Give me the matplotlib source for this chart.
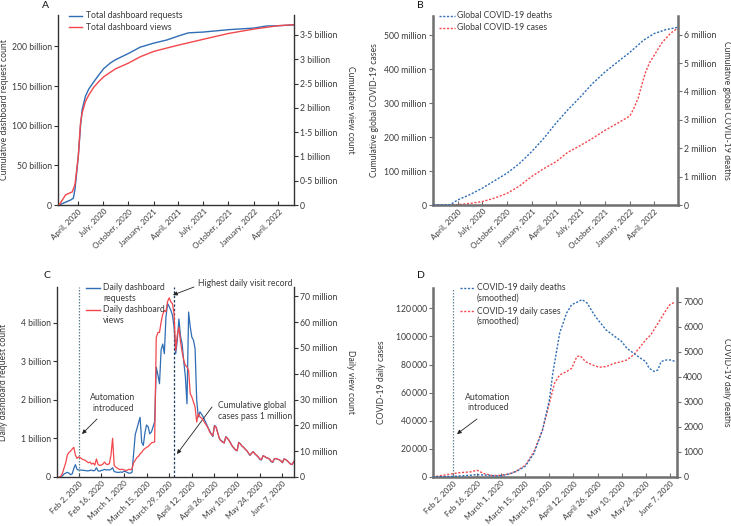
import pandas as pd
import matplotlib
matplotlib.use("Agg")
import matplotlib.pyplot as plt
from matplotlib.lines import Line2D

plt.rcParams['font.family'] = ['Lato', 'DejaVu Sans']
plt.rcParams['font.size'] = 6.2

BLUE = '#2f6db5'
RED = '#f2474c'
TXT = '#3a3a3a'
W, H = 731, 526

# ---- Panel A: cumulative requests (billions) / views (billions)
a_req_dates = ['2020-01-22', '2020-03-04', '2020-03-14', '2020-03-20', '2020-04-01', '2020-04-09',
               '2020-04-15', '2020-04-27', '2020-05-09', '2020-05-27', '2020-06-15', '2020-07-03',
               '2020-07-27', '2020-08-14', '2020-10-01', '2020-11-13', '2021-01-01', '2021-02-18',
               '2021-04-01', '2021-05-08', '2021-07-01', '2021-10-01', '2022-01-01', '2022-02-16',
               '2022-04-01', '2022-05-27']
a_requests = [0, 6.3, 8.5, 20, 61, 99, 120, 137, 146, 155, 164, 172, 179, 183, 191, 199, 204, 208,
              213, 217, 218, 221, 223, 225.6, 226, 227]
a_view_dates = ['2020-01-22', '2020-02-15', '2020-03-10', '2020-03-20', '2020-04-01', '2020-04-09',
                '2020-04-15', '2020-04-27', '2020-05-09', '2020-05-27', '2020-06-15', '2020-07-03',
                '2020-08-14', '2020-10-01', '2020-11-13', '2021-01-01', '2021-02-18', '2021-04-01',
                '2021-07-01', '2021-10-01', '2022-01-01', '2022-04-01', '2022-05-27']
a_views = [0, 0.21, 0.27, 0.42, 1.0, 1.68, 1.89, 2.13, 2.26, 2.42, 2.54, 2.64, 2.80, 2.92, 3.05,
           3.16, 3.23, 3.29, 3.41, 3.53, 3.62, 3.69, 3.71]

# ---- Panel B: cumulative cases (millions) / deaths (millions)
b_case_dates = ['2020-01-01', '2020-03-01', '2020-04-01', '2020-05-15', '2020-07-01', '2020-08-15',
                '2020-10-01', '2020-11-15', '2021-01-01', '2021-02-15', '2021-04-01', '2021-05-15',
                '2021-07-01', '2021-08-15', '2021-10-01', '2021-11-15', '2022-01-01', '2022-01-15',
                '2022-02-01', '2022-02-15', '2022-03-01', '2022-03-15', '2022-04-01', '2022-05-01',
                '2022-06-01', '2022-06-28']
b_cases = [0, 0.3, 1, 4.5, 10, 20, 34, 55, 84, 107, 127, 155, 175, 196, 220, 240, 262, 283,
           315, 355, 392, 418, 440, 478, 505, 520]
b_death_dates = ['2020-01-01', '2020-03-04', '2020-04-01', '2020-05-15', '2020-07-01', '2020-08-15',
                 '2020-10-01', '2020-11-15', '2021-01-01', '2021-02-15', '2021-04-01', '2021-05-15',
                 '2021-07-01', '2021-08-15', '2021-10-01', '2021-11-15', '2022-01-01', '2022-02-20',
                 '2022-04-01', '2022-05-15', '2022-06-28']
b_deaths = [0, 0.01, 0.18, 0.36, 0.59, 0.85, 1.12, 1.45, 1.88, 2.35, 2.88, 3.35, 3.81, 4.28,
            4.69, 5.03, 5.38, 5.8, 6.04, 6.18, 6.26]

# ---- Panel C: daily requests (billions) / views (millions), 21 Jan - 14 Jun 2020
c_start, c_end = '2020-01-21', '2020-06-14'
c_requests = [0, 0.01, 0.03, 0.08, 0.1, 0.12, 0.1, 0.06, 0.08, 0.22, 0.32,
              0.2, 0.18, 0.18, 0.18, 0.17, 0.17, 0.16, 0.16, 0.17, 0.18, 0.16, 0.17, 0.24, 0.16, 0.15,
              0.17, 0.18, 0.2, 0.18, 0.19, 0.18, 0.2, 0.24, 0.14, 0.13, 0.12, 0.12, 0.13, 0.12,
              0.15, 0.14, 0.12, 0.1, 0.1, 0.12, 0.6, 1.1, 1.25, 1.4, 1.55, 0.9, 0.82, 1.15, 1.35, 1.3,
              1.12, 1.17, 1.3, 1.43, 2.85, 2.65, 2.42, 3.3, 3.45, 3.2, 4.15, 4.5, 4.42, 4.33, 4.2,
              3.9, 3.2, 3.55, 4.1, 3.65, 3.45, 3.0, 2.6, 1.9, 4.28, 3.9, 3.63, 3.55, 3.33, 2.0, 1.56,
              1.69, 1.63, 1.56, 1.47, 1.38, 1.28, 1.2, 1.12, 1.05, 1.34, 1.3, 1.15, 1.0, 0.95,
              0.92, 0.88, 1.05, 1.0, 0.95, 0.88, 0.8, 0.75, 0.7, 0.68, 0.9, 0.86, 0.8, 0.77, 0.72,
              0.68, 0.62, 0.56, 0.62, 0.66, 0.6, 0.56, 0.52, 0.46, 0.44, 0.55, 0.53, 0.5, 0.49, 0.46, 0.4,
              0.38, 0.47, 0.48, 0.46, 0.45, 0.42, 0.37, 0.47, 0.45, 0.42, 0.38, 0.34, 0.32, 0.4]
c_views = [0, 0.3, 1.5, 3.5, 5.5, 8.5, 9.5, 10, 10.8, 11.5, 8.5,
           7.2, 7.8, 7.5, 7.0, 6.7, 6.5, 6.0, 5.5, 5.8, 5.0, 5.4, 4.6, 7.0, 4.9, 4.5,
           4.6, 5.0, 5.8, 5.0, 4.8, 5.2, 8.5, 15, 4.5, 3.8, 3.4, 3.0, 2.9, 3.0,
           2.8, 2.6, 2.6, 3.0, 2.8, 3.2, 5.5, 6.5, 7.5, 8.0, 9.0, 9.5, 10.5, 11.0, 11.5, 11.8,
           12.5, 13.2, 13.4, 13.6, 54, 56, 56, 60, 63, 64.5, 64, 68, 69.4, 67.8, 67.2,
           63.3, 49, 55, 58, 52.3, 48.4, 45.2, 43.3, 42.6, 41.3, 32.3, 31.0, 29, 27.1, 21.3,
           24.5, 23.3, 22.8, 22, 21, 20, 19, 17.5, 16.5, 16, 19.8, 19.2, 17, 15, 14,
           13.5, 13.2, 15.5, 15, 14.2, 13, 12, 11.3, 10.5, 10.2, 13.3, 12.8, 12, 11.5, 10.8,
           10.2, 9.3, 8.5, 9.2, 9.8, 9, 8.4, 7.8, 7, 6.8, 8.2, 8, 7.5, 7.3, 7, 6.2,
           5.8, 7, 7.2, 6.9, 6.7, 6.3, 5.6, 7, 6.8, 6.3, 5.6, 5, 4.9, 6]

# ---- Panel D: smoothed daily cases / deaths
d_case_dates = ['2020-01-21', '2020-02-02', '2020-02-06', '2020-02-12', '2020-02-16', '2020-02-20',
                '2020-02-25', '2020-03-01', '2020-03-06', '2020-03-10', '2020-03-15', '2020-03-20',
                '2020-03-25', '2020-03-29', '2020-04-01', '2020-04-04', '2020-04-08', '2020-04-11',
                '2020-04-14', '2020-04-16', '2020-04-19', '2020-04-23', '2020-04-27', '2020-05-01',
                '2020-05-06', '2020-05-10', '2020-05-13', '2020-05-17', '2020-05-21', '2020-05-24',
                '2020-05-27', '2020-05-30', '2020-06-02', '2020-06-05', '2020-06-07', '2020-06-10']
d_cases = [0, 2400, 3100, 3600, 4800, 2400, 1000, 1200, 2400, 4300, 8300, 17900, 33300, 52400,
           66700, 72600, 75000, 77400, 85700, 86200, 82100, 79800, 78100, 78600, 81000, 82100,
           83300, 86900, 92900, 97600, 101200, 107100, 113100, 119000, 122600, 124500]
d_death_dates = ['2020-01-21', '2020-02-02', '2020-02-12', '2020-02-16', '2020-02-22', '2020-02-28',
                 '2020-03-01', '2020-03-06', '2020-03-10', '2020-03-15', '2020-03-20', '2020-03-25',
                 '2020-03-29', '2020-03-31', '2020-04-04', '2020-04-08', '2020-04-11', '2020-04-14',
                 '2020-04-17', '2020-04-20', '2020-04-24', '2020-04-27', '2020-05-01', '2020-05-06',
                 '2020-05-10', '2020-05-13', '2020-05-17', '2020-05-21', '2020-05-24', '2020-05-26',
                 '2020-05-29', '2020-05-31', '2020-06-02', '2020-06-05', '2020-06-08', '2020-06-10']
d_deaths = [0, 25, 70, 95, 70, 40, 55, 120, 230, 430, 935, 1870, 3070, 4140, 5740, 6540, 6880,
            6970, 7080, 6940, 6480, 6210, 5870, 5610, 5410, 5140, 4940, 4740, 4610, 4340, 4210,
            4270, 4610, 4670, 4670, 4610]

# ---- tick positions and labels
long_ticks = ['2020-04-01', '2020-07-01', '2020-10-01', '2021-01-01', '2021-04-01', '2021-07-01',
              '2021-10-01', '2022-01-01', '2022-04-01']
long_labels = ['April, 2020', 'July, 2020', 'October, 2020', 'January, 2021', 'April, 2021',
               'July, 2021', 'October, 2021', 'January, 2022', 'April, 2022']
short_ticks = ['2020-02-02', '2020-02-16', '2020-03-01', '2020-03-15', '2020-03-29', '2020-04-12',
               '2020-04-26', '2020-05-10', '2020-05-24', '2020-06-07']
short_labels = ['Feb 2, 2020', 'Feb 16, 2020', 'March 1, 2020', 'March 15, 2020', 'March 29, 2020',
                'April 12, 2020', 'April 26, 2020', 'May 10, 2020', 'May 24, 2020', 'June 7, 2020']

a_left_ticks = [0, 50, 100, 150, 200]
a_left_labels = ['0', '50 billion', '100 billion', '150 billion', '200 billion']
a_right_ticks = [0, 0.5, 1, 1.5, 2, 2.5, 3, 3.5]
a_right_labels = ['0', '0·5 billion', '1 billion', '1·5 billion', '2 billion', '2·5 billion',
                  '3 billion', '3·5 billion']
b_left_ticks = [0, 100, 200, 300, 400, 500]
b_left_labels = ['0', '100 million', '200 million', '300 million', '400 million', '500 million']
b_right_ticks = [0, 1, 2, 3, 4, 5, 6]
b_right_labels = ['0', '1 million', '2 million', '3 million', '4 million', '5 million', '6 million']
c_left_ticks = [0, 1, 2, 3, 4]
c_left_labels = ['0', '1 billion', '2 billion', '3 billion', '4 billion']
c_right_ticks = [0, 10, 20, 30, 40, 50, 60, 70]
c_right_labels = ['0', '10 million', '20 million', '30 million', '40 million', '50 million',
                  '60 million', '70 million']
d_left_ticks = [0, 20000, 40000, 60000, 80000, 100000, 120000]
d_left_labels = ['0', '20\u2009000', '40\u2009000', '60\u2009000', '80\u2009000', '100\u2009000',
                 '120\u2009000']
d_right_ticks = [0, 1000, 2000, 3000, 4000, 5000, 6000, 7000]
d_right_labels = ['0', '1000', '2000', '3000', '4000', '5000', '6000', '7000']


def fx(px):
    return px / W


def fy(py):
    return 1 - py / H


def add_axes(fig, l, t, r, b):
    return fig.add_axes([fx(l), fy(b), (r - l) / W, (b - t) / H])


def style(ax, ax2, spine_col, spine_lw):
    ax.spines['top'].set_visible(False)
    ax.spines['right'].set_visible(False)
    ax2.spines['top'].set_visible(False)
    ax2.spines['left'].set_visible(False)
    ax2.spines['bottom'].set_visible(False)
    for s in ['left', 'bottom']:
        ax.spines[s].set_color(spine_col)
        ax.spines[s].set_linewidth(spine_lw)
    ax2.spines['right'].set_color(spine_col)
    ax2.spines['right'].set_linewidth(spine_lw)
    ax.tick_params(axis='y', direction='out', length=3, width=0.8, pad=1.5,
                   colors=spine_col, labelcolor=TXT)
    ax2.tick_params(axis='y', direction='out', length=3, width=0.8, pad=1.5,
                    colors=spine_col, labelcolor=TXT)
    ax.tick_params(axis='x', direction='in', length=3, width=0.8, pad=2,
                   colors=spine_col, labelcolor=TXT, labelsize=5.8)


def set_xdates(ax, ticks, labels, lo, hi):
    ax.set_xlim(pd.Timestamp(lo), pd.Timestamp(hi))
    ax.set_xticks(pd.to_datetime(ticks))
    ax.set_xticklabels(labels, rotation=45, ha='right', rotation_mode='anchor')


def set_y(ax, ticks, labels, top):
    ax.set_ylim(0, top)
    ax.set_yticks(ticks)
    ax.set_yticklabels(labels)


def lines_text(fig, x, y, lines, step=10.5, ha='left'):
    for i, s in enumerate(lines):
        fig.text(fx(x), fy(y + i * step), s, ha=ha, va='center', color=TXT)


def key(fig, x0, x1, y, color, ls):
    fig.add_artist(Line2D([fx(x0), fx(x1)], [fy(y), fy(y)], transform=fig.transFigure,
                          color=color, lw=1.0, ls=ls))


fig = plt.figure(figsize=(W / 100, H / 100), dpi=100)
DOT = (0, (1.5, 1.2))

# ================= A
axA = add_axes(fig, 58, 15, 294, 205)
axA2 = axA.twinx()
axA.plot(pd.to_datetime(a_req_dates), a_requests, color=BLUE, lw=1.0)
axA2.plot(pd.to_datetime(a_view_dates), a_views, color=RED, lw=1.0)
style(axA, axA2, '#333333', 1.0)
set_xdates(axA, long_ticks, long_labels, '2020-01-18', '2022-05-28')
set_y(axA, a_left_ticks, a_left_labels, 239.5)
set_y(axA2, a_right_ticks, a_right_labels, 3.91)
key(fig, 69, 82, 16, BLUE, '-')
key(fig, 69, 82, 27, RED, '-')
lines_text(fig, 86, 16, ['Total dashboard requests'])
lines_text(fig, 86, 27, ['Total dashboard views'])

# ================= B
axB = add_axes(fig, 433, 16, 678, 205)
axB2 = axB.twinx()
axB2.plot(pd.to_datetime(b_death_dates), b_deaths, color=BLUE, lw=1.0, ls=DOT)
axB.plot(pd.to_datetime(b_case_dates), b_cases, color=RED, lw=1.0, ls=DOT)
style(axB, axB2, '#6f6f6f', 1.8)
set_xdates(axB, long_ticks, long_labels, '2019-12-31', '2022-06-29')
set_y(axB, b_left_ticks, b_left_labels, 556)
set_y(axB2, b_right_ticks, b_right_labels, 6.66)
key(fig, 439, 455, 16, BLUE, DOT)
key(fig, 439, 455, 28, RED, DOT)
lines_text(fig, 457, 16, ['Global COVID-19 deaths'])
lines_text(fig, 457, 28, ['Global COVID-19 cases'])

# ================= C
axC = add_axes(fig, 57, 287, 294, 477)
axC2 = axC.twinx()
c_dates = pd.date_range(c_start, c_end)
axC.plot(c_dates, c_requests, color=BLUE, lw=0.9)
axC2.plot(c_dates, c_views, color=RED, lw=0.9)
style(axC, axC2, '#333333', 1.0)
set_xdates(axC, short_ticks, short_labels, '2020-01-19 15:00', '2020-06-14 04:00')
set_y(axC, c_left_ticks, c_left_labels, 4.93)
set_y(axC2, c_right_ticks, c_right_labels, 73.6)
axC.axvline(pd.Timestamp('2020-02-02'), color='#5f7f86', lw=0.9, ls=(0, (1.2, 1.2)))
axC.axvline(pd.Timestamp('2020-04-01'), color='#1d3f62', lw=0.9, ls=(0, (2, 1.5)))
key(fig, 86, 100, 288, BLUE, '-')
key(fig, 86, 100, 310, RED, '-')
lines_text(fig, 103, 288, ['Daily dashboard', 'requests'])
lines_text(fig, 103, 310, ['Daily dashboard', 'views'])

arrow = dict(arrowstyle='-|>', color='#222222', lw=0.6, mutation_scale=6, shrinkA=0, shrinkB=0)
lines_text(fig, 113, 398, ['Automation', 'introduced'], ha='center')
axC.annotate('', xy=(fx(82), fy(434)), xycoords='figure fraction',
             xytext=(fx(97), fy(419)), textcoords='figure fraction', arrowprops=arrow)
lines_text(fig, 198, 284, ['Highest daily visit record'])
axC.annotate('', xy=(fx(173), fy(295)), xycoords='figure fraction',
             xytext=(fx(194), fy(287)), textcoords='figure fraction', arrowprops=arrow)
lines_text(fig, 218, 406, ['Cumulative global', 'cases pass 1 million'])
axC.annotate('', xy=(fx(177), fy(454)), xycoords='figure fraction',
             xytext=(fx(212), fy(407)), textcoords='figure fraction', arrowprops=arrow)

# ================= D
axD = add_axes(fig, 433, 288, 677, 477)
axD2 = axD.twinx()
axD2.plot(pd.to_datetime(d_death_dates), d_deaths, color=BLUE, lw=1.0, ls=DOT)
axD.plot(pd.to_datetime(d_case_dates), d_cases, color=RED, lw=1.0, ls=DOT)
style(axD, axD2, '#6f6f6f', 1.8)
set_xdates(axD, short_ticks, short_labels, '2020-01-21 09:00', '2020-06-11 05:00')
set_y(axD, d_left_ticks, d_left_labels, 134500)
set_y(axD2, d_right_ticks, d_right_labels, 7543)
axD.axvline(pd.Timestamp('2020-02-02'), color='#6b8795', lw=0.9, ls=(0, (1.2, 1.2)))
key(fig, 460, 475, 288, BLUE, DOT)
key(fig, 460, 475, 311, RED, DOT)
lines_text(fig, 477, 288, ['COVID-19 daily deaths', '(smoothed)'])
lines_text(fig, 477, 311, ['COVID-19 daily cases', '(smoothed)'])
lines_text(fig, 488, 397, ['Automation', 'introduced'], ha='center')
axD.annotate('', xy=(fx(457), fy(434)), xycoords='figure fraction',
             xytext=(fx(477), fy(419)), textcoords='figure fraction', arrowprops=arrow)

# ---- axis titles
fig.text(fx(5), fy(110), 'Cumulative dashboard request count', rotation=90, ha='center',
         va='center', color=TXT)
fig.text(fx(351), fy(110), 'Cumulative view count', rotation=270, ha='center', va='center',
         color=TXT)
fig.text(fx(375), fy(110), 'Cumulative global COVID-19 cases', rotation=90, ha='center',
         va='center', color=TXT)
fig.text(fx(726), fy(110), 'Cumulative global COVID-19 deaths', rotation=270, ha='center',
         va='center', color=TXT)
fig.text(fx(4), fy(382), 'Daily dashboard request count', rotation=90, ha='center',
         va='center', color=TXT)
fig.text(fx(351), fy(382), 'Daily view count', rotation=270, ha='center', va='center', color=TXT)
fig.text(fx(382), fy(382), 'COVID-19 daily cases', rotation=90, ha='center', va='center',
         color=TXT)
fig.text(fx(726), fy(382), 'COVID-19 daily deaths', rotation=270, ha='center', va='center',
         color=TXT)

# ---- panel letters
for letter, x, y in [('A', 45, 5), ('B', 420, 5), ('C', 47, 275), ('D', 421, 275)]:
    fig.text(fx(x), fy(y), letter, ha='center', va='center', fontsize=7.5, color='#111111')

fig.savefig('out.png', dpi=100)
